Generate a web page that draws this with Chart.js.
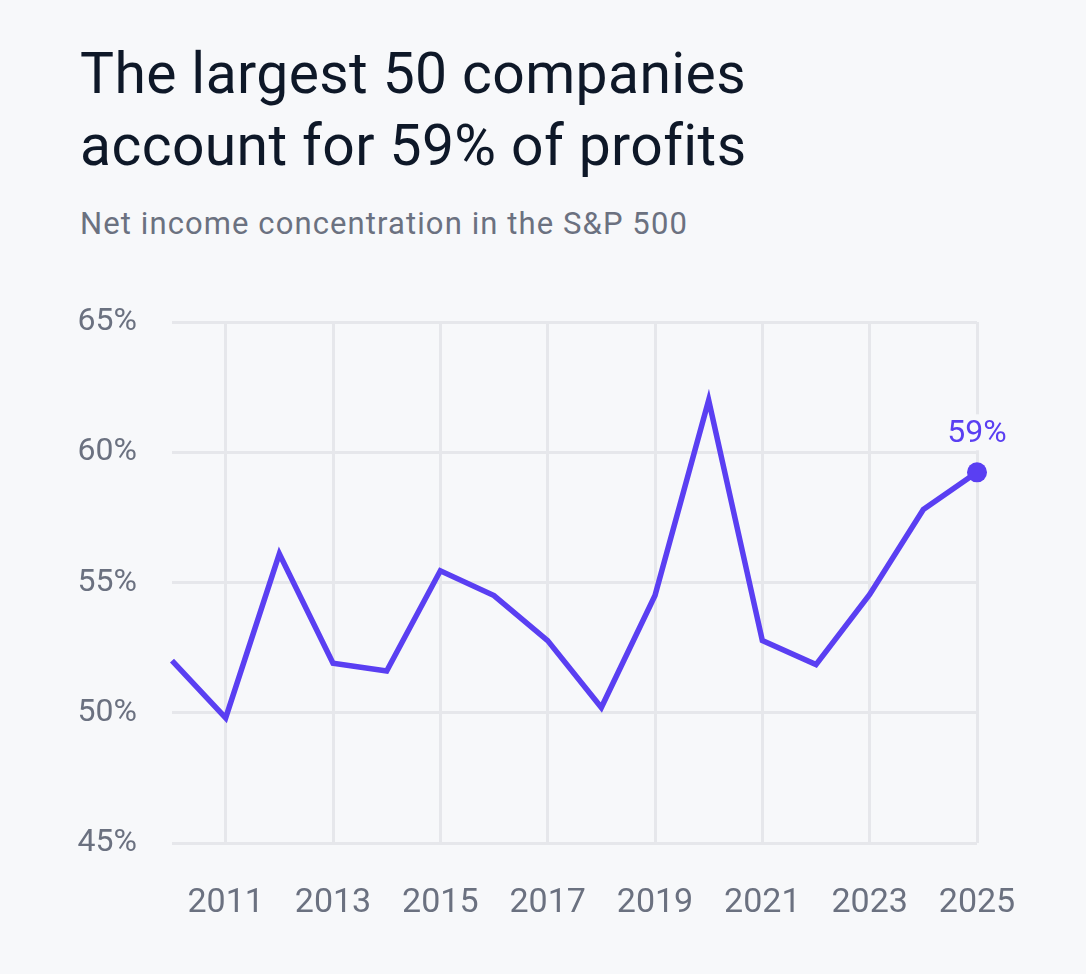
<!DOCTYPE html>
<html>
<head>
<meta charset="utf-8">
<script src="https://cdn.jsdelivr.net/npm/chart.js@4/dist/chart.umd.min.js"></script>
<style>
  html, body { margin: 0; padding: 0; background: #ffffff; }
  #wrap { position: relative; width: 1086px; height: 974px; background: #f7f8fa; overflow: hidden; }
  #title { position: absolute; left: 80px; top: 38px; margin: 0; font-family: Roboto, "Noto Sans", sans-serif; font-weight: 400; font-size: 57px; line-height: 72px; letter-spacing: 0.4px; color: #0e1828; }
  #subtitle { position: absolute; left: 80px; top: 204px; margin: 0; font-family: Roboto, "Noto Sans", sans-serif; font-weight: 400; font-size: 31px; line-height: 40px; letter-spacing: 1.1px; color: #6b7180; }
  #c { position: absolute; left: 0; top: 0; }
</style>
</head>
<body>
<div id="wrap">
  <h1 id="title">The largest 50 companies<br>account for 59% of profits</h1>
  <p id="subtitle">Net income concentration in the S&amp;P 500</p>
  <canvas id="c" width="1086" height="974"></canvas>
</div>
<script>
const years = [2010, 2011, 2012, 2013, 2014, 2015, 2016, 2017, 2018, 2019, 2020, 2021, 2022, 2023, 2024, 2025];
const shareTop50 = [52.0, 49.8, 56.1, 51.9, 51.6, 55.45, 54.5, 52.77, 50.2, 54.5, 62.0, 52.77, 51.85, 54.54, 57.8, 59.23];
const xTickYears = [2011, 2013, 2015, 2017, 2019, 2021, 2023, 2025];
const yTicks = [45, 50, 55, 60, 65];

const bg = '#f7f8fa';
const lineColor = '#5a3ff2';
const gridColor = '#e6e7eb';
const tickColor = '#6b7180';
const fontFamily = 'Roboto, "Noto Sans", sans-serif';

const points = years.map((y, i) => ({ x: y, y: shareTop50[i] }));

const lastLabel = {
  id: 'lastLabel',
  beforeDatasetsDraw(chart) {
    const meta = chart.getDatasetMeta(0);
    const el = meta.data[meta.data.length - 1];
    const ctx = chart.ctx;
    ctx.save();
    ctx.fillStyle = bg;
    ctx.fillRect(el.x - 36, el.y - 58, 72, 36);
    ctx.restore();
  },
  afterDatasetsDraw(chart) {
    const meta = chart.getDatasetMeta(0);
    const el = meta.data[meta.data.length - 1];
    const ctx = chart.ctx;
    const txt = Math.round(shareTop50[shareTop50.length - 1]) + '%';
    ctx.save();
    ctx.font = '400 32px ' + fontFamily;
    ctx.textAlign = 'center';
    ctx.textBaseline = 'alphabetic';
    ctx.fillStyle = lineColor;
    ctx.fillText(txt, el.x, el.y - 30);
    ctx.restore();
  }
};

new Chart(document.getElementById('c'), {
  type: 'line',
  data: {
    datasets: [{
      data: points,
      borderColor: lineColor,
      backgroundColor: lineColor,
      borderWidth: 5.5,
      tension: 0,
      borderJoinStyle: 'miter',
      pointRadius: points.map((p, i) => i === points.length - 1 ? 10 : 0),
      pointHoverRadius: 0,
      pointBackgroundColor: lineColor,
      pointBorderWidth: 0,
      clip: false
    }]
  },
  options: {
    responsive: false,
    animation: false,
    events: [],
    layout: { padding: { left: 0, right: 109, top: 322, bottom: 0 } },
    plugins: { legend: { display: false }, tooltip: { enabled: false } },
    scales: {
      x: {
        type: 'linear',
        min: 2010,
        max: 2025,
        afterBuildTicks(scale) { scale.ticks = xTickYears.map(v => ({ value: v })); },
        afterFit(scale) { scale.height = 131; },
        grid: { color: gridColor, lineWidth: 3, drawTicks: false },
        border: { display: false },
        ticks: {
          color: tickColor,
          font: { family: fontFamily, size: 34 },
          padding: 40,
          maxRotation: 0,
          autoSkip: false,
          callback: v => String(v)
        }
      },
      y: {
        min: 45,
        max: 65,
        afterBuildTicks(scale) { scale.ticks = yTicks.map(v => ({ value: v })); },
        afterFit(scale) { scale.width = 172; },
        grid: { color: gridColor, lineWidth: 3, drawTicks: false },
        border: { display: false },
        ticks: {
          color: tickColor,
          font: { family: fontFamily, size: 32 },
          padding: 35,
          callback: v => v + '%'
        }
      }
    }
  },
  plugins: [lastLabel]
});
</script>
</body>
</html>
